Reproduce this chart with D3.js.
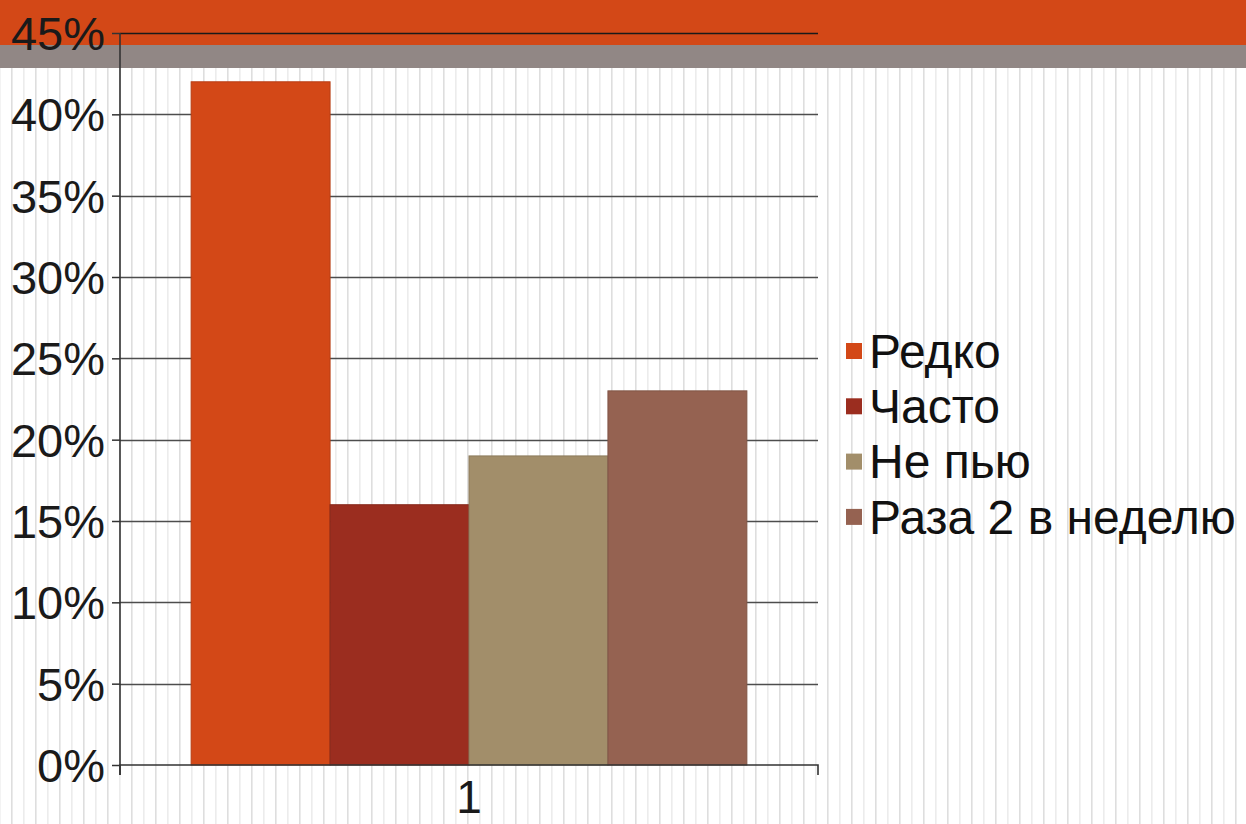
<!DOCTYPE html>
<html>
<head>
<meta charset="utf-8">
<script src="https://cdn.jsdelivr.net/npm/d3@7"></script>
<style>
  body { margin: 0; background: #fff; }
  svg { display: block; font-family: "Liberation Sans", Arial, sans-serif; }
</style>
</head>
<body>
<svg id="chart"></svg>
<script>
const categories = ["1"];
const seriesNames = ["Редко", "Часто", "Не пью", "Раза 2 в неделю"];
const seriesValues = [0.42, 0.16, 0.19, 0.23];
const seriesColors = ["#d34817", "#9b2d1f", "#a28e6a", "#956251"];
const yTicks = [0, 0.05, 0.1, 0.15, 0.2, 0.25, 0.3, 0.35, 0.4, 0.45];

const W = 1246, H = 824;
const margin = { top: 33, right: 428, bottom: 59, left: 120 };
const width = W - margin.left - margin.right;
const height = H - margin.top - margin.bottom;

const svg = d3.select("#chart").attr("width", W).attr("height", H);

// background: stripes + top bands
const bg = svg.append("g");
bg.selectAll("rect.stripe")
  .data(d3.range(-1, W, 12))
  .join("rect")
  .attr("class", "stripe")
  .attr("x", (d) => d)
  .attr("y", 0)
  .attr("width", 1.6)
  .attr("height", H)
  .attr("fill", (d, i) => (i % 2 ? "#dedede" : "#ececec"));
bg.append("rect").attr("x", 0).attr("y", 0).attr("width", W).attr("height", 45).attr("fill", "#d34817");
bg.append("rect").attr("x", 0).attr("y", 45).attr("width", W).attr("height", 23).attr("fill", "#918785");

const g = svg.append("g").attr("transform", `translate(${margin.left}, ${margin.top})`);

const x0 = d3.scaleBand().domain(categories).range([0, width]).paddingInner(0).paddingOuter(0.128);
const x1 = d3.scaleBand().domain(seriesNames).range([0, x0.bandwidth()]);
const y = d3.scaleLinear().domain([0, 0.45]).range([height, 0]);

// gridlines
g.append("g")
  .selectAll("line")
  .data(yTicks.filter((d) => d > 0))
  .join("line")
  .attr("x1", 0)
  .attr("x2", width)
  .attr("y1", (d) => Math.round(y(d)) + 0.5)
  .attr("y2", (d) => Math.round(y(d)) + 0.5)
  .attr("stroke", (d) => (d === 0.45 ? "#1a1a1a" : "#4d4d4d"))
  .attr("stroke-width", 1.5);

// bars
const cat = g.selectAll("g.cat")
  .data(categories)
  .join("g")
  .attr("class", "cat")
  .attr("transform", (d) => `translate(${x0(d)},0)`);

cat.selectAll("rect")
  .data(seriesNames.map((name, i) => ({ name, value: seriesValues[i], color: seriesColors[i] })))
  .join("rect")
  .attr("x", (d) => x1(d.name))
  .attr("y", (d) => y(d.value))
  .attr("width", x1.bandwidth())
  .attr("height", (d) => y(0) - y(d.value))
  .attr("fill", (d) => d.color)
  .attr("stroke", (d) => d3.color(d.color).darker(0.4))
  .attr("stroke-width", 1);

// y axis
const yAxis = d3.axisLeft(y)
  .tickValues(yTicks)
  .tickFormat((d) => Math.round(d * 100) + "%")
  .tickSize(8)
  .tickPadding(7);
const ya = g.append("g").call(yAxis);
ya.select(".domain").attr("stroke", "#333").attr("stroke-width", 1.6).attr("d", `M0,0V${height + 10}`);
ya.selectAll(".tick line").attr("stroke", "#333").attr("stroke-width", 1.5);
ya.selectAll(".tick text")
  .attr("fill", "#1a1a1a")
  .style("font-size", "47px")
  .attr("dy", "0.35em");

// x axis
const xAxis = d3.axisBottom(x0).tickSize(0).tickPadding(0);
const xa = g.append("g").attr("transform", `translate(0,${height})`).call(xAxis);
xa.select(".domain").attr("stroke", "#333").attr("stroke-width", 1.6).attr("d", `M0,10V0H${width}V10`);
xa.selectAll(".tick text")
  .attr("fill", "#1a1a1a")
  .style("font-size", "46px")
  .attr("y", 48)
  .attr("dy", 0);

// legend
const legend = svg.append("g").attr("transform", "translate(846, 351)");
const item = legend.selectAll("g")
  .data(seriesNames)
  .join("g")
  .attr("transform", (d, i) => `translate(0, ${i * 55.3})`);
item.append("rect")
  .attr("x", 0)
  .attr("y", -8)
  .attr("width", 16)
  .attr("height", 16)
  .attr("fill", (d, i) => seriesColors[i]);
item.append("text")
  .attr("x", 23)
  .attr("dy", "0.35em")
  .attr("fill", "#111")
  .style("font-size", "48px")
  .text((d) => d);
</script>
</body>
</html>
